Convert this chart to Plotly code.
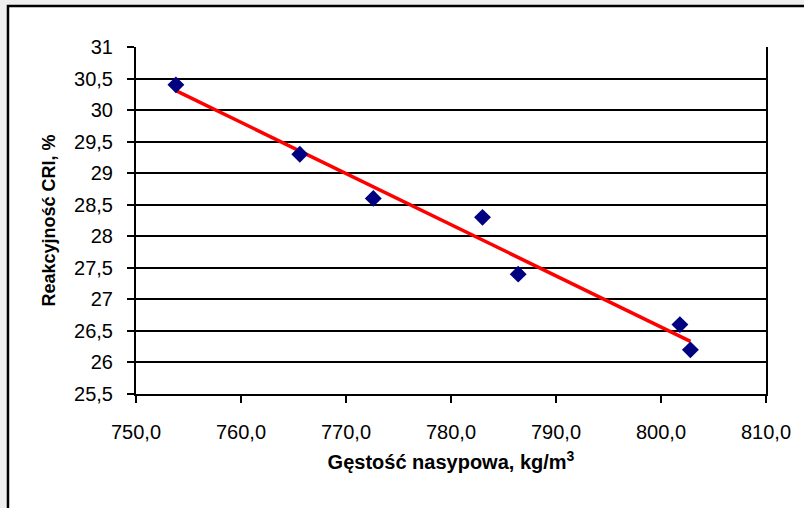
import numpy as np
import plotly.graph_objects as go

# Bulk density (kg/m3) and CRI reactivity (%) of coke samples
gestosc = [753.8, 765.6, 772.6, 783.0, 786.4, 801.8, 802.8]
cri = [30.4, 29.3, 28.6, 28.3, 27.4, 26.6, 26.2]

x_ticks = [750, 760, 770, 780, 790, 800, 810]
x_tick_labels = ["750,0", "760,0", "770,0", "780,0", "790,0", "800,0", "810,0"]
y_ticks = [25.5, 26, 26.5, 27, 27.5, 28, 28.5, 29, 29.5, 30, 30.5, 31]
y_tick_labels = ["25,5", "26", "26,5", "27", "27,5", "28", "28,5", "29", "29,5", "30", "30,5", "31"]

# Linear trend line over the measured range
slope, intercept = np.polyfit(gestosc, cri, 1)
trend_x = [min(gestosc), max(gestosc)]
trend_y = [slope * v + intercept for v in trend_x]

fig = go.Figure()
fig.add_trace(go.Scatter(
    x=trend_x, y=trend_y, mode="lines",
    line=dict(color="#ff0000", width=3.5),
    hoverinfo="skip", showlegend=False,
))
fig.add_trace(go.Scatter(
    x=gestosc, y=cri, mode="markers",
    marker=dict(symbol="diamond", size=13, color="#000080"),
    showlegend=False,
))

# white chart area with a black frame
fig.add_shape(
    type="rect", xref="paper", yref="paper",
    x0=-0.2032, y0=-0.6, x1=1.4, y1=1.1182,
    fillcolor="white", line=dict(color="black", width=2.5), layer="below",
)

font_family = "Liberation Sans, Arial, sans-serif"

fig.update_layout(
    width=804, height=508,
    margin=dict(l=136, r=38, t=47, b=114),
    paper_bgcolor="#efefef",
    plot_bgcolor="white",
    font=dict(family=font_family, color="black"),
    xaxis=dict(
        range=[750, 810],
        tickvals=x_ticks, ticktext=x_tick_labels,
        tickfont=dict(size=20),
        showgrid=False, zeroline=False,
        showline=True, linecolor="black", linewidth=2,
        ticks="outside", ticklen=7, tickwidth=2, tickcolor="black",
        ticklabelstandoff=12,
        title=dict(text="<b>Gęstość nasypowa, kg/m<sup>3</sup></b>",
                   font=dict(size=20), standoff=13),
    ),
    yaxis=dict(
        range=[25.5, 31],
        tickvals=y_ticks, ticktext=y_tick_labels,
        tickfont=dict(size=20),
        showgrid=True, gridcolor="black", gridwidth=2,
        zeroline=False,
        showline=True, linecolor="black", linewidth=2, mirror=True,
        ticks="outside", ticklen=7, tickwidth=2, tickcolor="black",
        ticklabelstandoff=10,
        title=dict(text="<b>Reakcyjność CRI, %</b>",
                   font=dict(size=18), standoff=14),
    ),
)

fig.write_html("out.html")
